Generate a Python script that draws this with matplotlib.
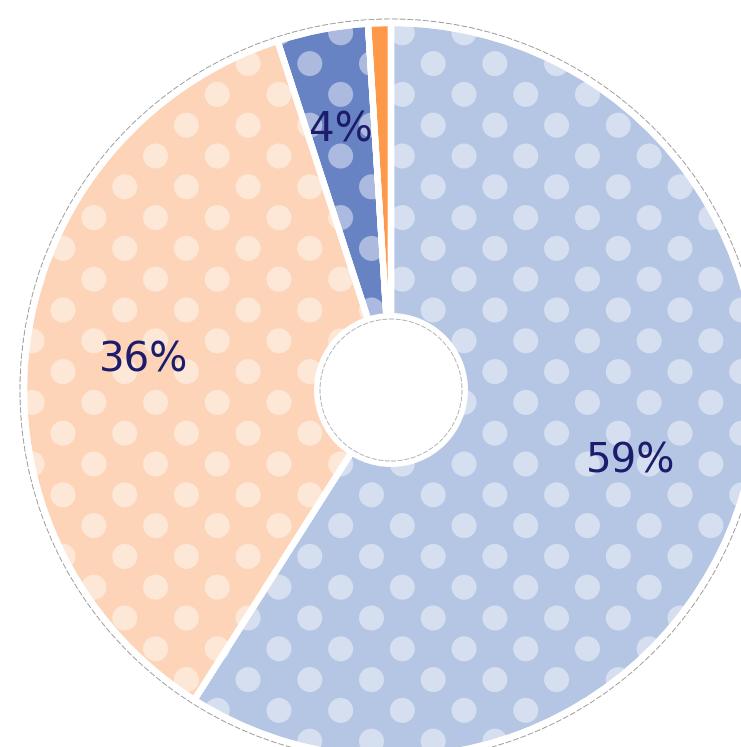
import numpy as np
import matplotlib
matplotlib.use("Agg")
import matplotlib.pyplot as plt
from matplotlib.patches import Wedge, Circle
from matplotlib.collections import PatchCollection

# ---- data ----
labels = ["59%", "36%", "4%", ""]
values = [59, 36, 4, 1]
colors = ["#b5c5e4", "#fdd4b7", "#6783c3", "#fe994a"]
text_color = "#1c1c6b"

W, H = 741, 747
fig = plt.figure(figsize=(W / 100, H / 100), dpi=100)
ax = fig.add_axes([0, 0, 1, 1])
ax.set_xlim(0, W)
ax.set_ylim(0, H)
ax.set_aspect("equal")
ax.axis("off")

cx, cy = 391, H - 390
R = 367
r_hole = 77

# dot grid (global pattern)
dx, dy = 61.7, 30.8
x0, y0 = 63, H - 310
dots_xy = []
for j in range(-15, 16):
    yy = y0 - j * dy
    off = 0 if j % 2 == 0 else -dx / 2
    for i in range(-3, 15):
        xx = x0 + off + i * dx
        dots_xy.append((xx, yy))

total = sum(values)
cum = 0
for v, c, lab in zip(values, colors, labels):
    t2 = 90 - cum / total * 360
    t1 = 90 - (cum + v) / total * 360
    w = Wedge((cx, cy), R, t1, t2, facecolor=c, edgecolor="white", linewidth=4.5, zorder=2)
    ax.add_patch(w)
    if v >= 3:
        dots = PatchCollection([Circle(p, 12.5) for p in dots_xy],
                               facecolor="white", edgecolor="none", alpha=0.45, zorder=3)
        ax.add_collection(dots)
        dots.set_clip_path(w)
    ax.add_patch(Wedge((cx, cy), R, t1, t2, facecolor="none", edgecolor="white",
                       linewidth=4.5, zorder=4))
    if lab:
        mid = np.deg2rad((t1 + t2) / 2)
        rr = 0.68 * R if v > 10 else 0.725 * R
        ax.text(cx + rr * np.cos(mid), cy + rr * np.sin(mid) - 2, lab, ha="center", va="center",
                fontsize=29, color=text_color, family="DejaVu Sans", zorder=6)
    cum += v

# outer dashed ring
ax.add_patch(Circle((cx, cy), R + 4, facecolor="none", edgecolor="#9a9a9a",
                    linewidth=0.7, linestyle=(0, (6, 2)), zorder=1))
# hole
ax.add_patch(Circle((cx, cy), r_hole, facecolor="white", edgecolor="none", zorder=5))
ax.add_patch(Circle((cx, cy), r_hole - 6, facecolor="none", edgecolor="#aaaaaa",
                    linewidth=0.6, linestyle=(0, (6, 2)), zorder=5))

fig.savefig("out.png", dpi=100)
